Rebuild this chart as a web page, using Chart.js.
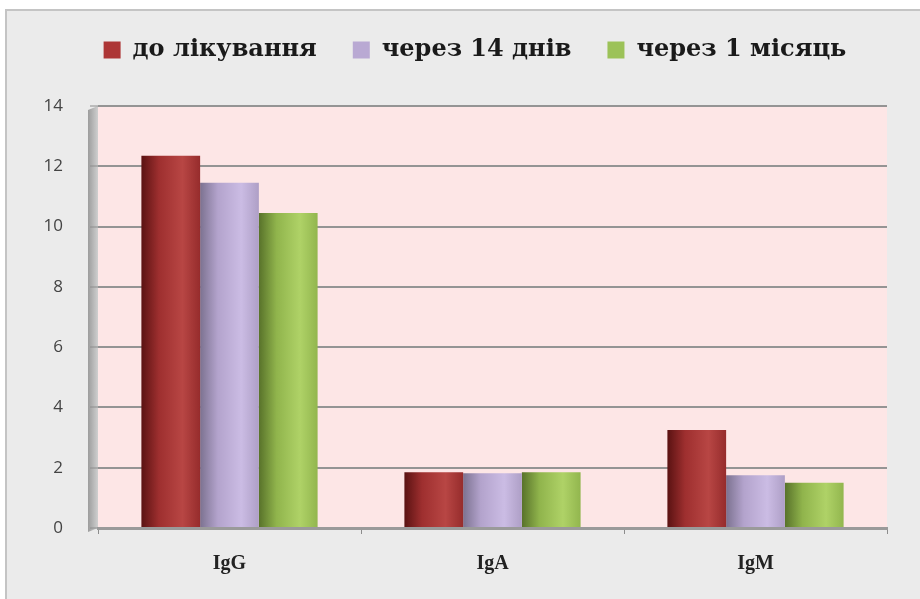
<!DOCTYPE html>
<html>
<head>
<meta charset="utf-8">
<script src="https://cdn.jsdelivr.net/npm/chart.js@4"></script>
<style>
  html, body { margin: 0; background: #fff; }
  #card {
    position: absolute; left: 5px; top: 9px; width: 915px; height: 590px;
    background: #ebebeb; border-left: 2px solid #c4c4c4; border-top: 2px solid #c4c4c4;
  }
  canvas { display: block; }
</style>
</head>
<body>
<div id="card"><canvas id="chart" width="913" height="588"></canvas></div>
<script>
const categories = ["IgG", "IgA", "IgM"];
const seriesNames = ["до лікування", "через 14 днів", "через 1 місяць"];
const beforeTreatment = [12.35, 1.85, 3.25];
const after14Days = [11.45, 1.82, 1.75];
const after1Month = [10.45, 1.85, 1.5];
const yMax = 14;
const yStep = 2;

// dark edge, mid, highlight, right rim, legend swatch
const palettes = [
  ["#5a1212", "#9e2f2f", "#b84644", "#962c2c", "#ad3636"],
  ["#7c7290", "#b3a3cc", "#cbbce4", "#ae9fc6", "#b9a9d3"],
  ["#58722a", "#90b44c", "#afd267", "#92b64e", "#9cc258"],
];
const categoryPct = 0.67;

function barFill(c) {
  const pal = palettes[c.datasetIndex];
  const x = c.chart.scales.x;
  if (c.type !== "data" || !x) return pal[4];
  const groupW = (x.width / categories.length) * categoryPct;
  const barW = groupW / 3;
  const left = x.getPixelForValue(c.dataIndex) - groupW / 2 + c.datasetIndex * barW;
  if (!isFinite(left) || !isFinite(barW) || barW <= 0) return pal[4];
  const g = c.chart.ctx.createLinearGradient(left, 0, left + barW, 0);
  g.addColorStop(0, pal[0]);
  g.addColorStop(0.3, pal[1]);
  g.addColorStop(0.7, pal[2]);
  g.addColorStop(1, pal[3]);
  return g;
}

const plotBackground = {
  id: "plotBackground",
  afterInit(chart) {
    const fit = chart.legend.fit;
    chart.legend.fit = function () {
      fit.call(this);
      this.height += 15;
    };
  },
  afterLayout(chart) {
    // legend sits higher and a little right of centre in the original
    const lg = chart.legend;
    lg.left += 28;
    lg.right += 28;
    lg.top -= 19;
    lg.bottom -= 19;
  },
  beforeDraw(chart) {
    const { ctx, chartArea: a } = chart;
    ctx.save();
    ctx.fillStyle = "#fde6e6";
    ctx.fillRect(a.left, a.top, a.right - a.left, a.bottom - a.top);
    const g = ctx.createLinearGradient(a.left - 10, 0, a.left, 0);
    g.addColorStop(0, "#9c9c9c");
    g.addColorStop(1, "#cfcfcf");
    ctx.fillStyle = g;
    ctx.beginPath();
    ctx.moveTo(a.left - 10, a.top + 4);
    ctx.lineTo(a.left, a.top);
    ctx.lineTo(a.left, a.bottom);
    ctx.lineTo(a.left - 10, a.bottom + 4);
    ctx.closePath();
    ctx.fill();
    ctx.restore();
  }
};

const datasets = [beforeTreatment, after14Days, after1Month].map((values, i) => ({
  label: seriesNames[i],
  data: values,
  backgroundColor: barFill,
  borderWidth: 0,
  categoryPercentage: categoryPct,
  barPercentage: 1.0,
}));

const chart = new Chart(document.getElementById("chart"), {
  type: "bar",
  data: { labels: categories, datasets: datasets },
  options: {
    responsive: false,
    animation: false,
    layout: { padding: { top: 10, right: 33, left: 0, bottom: 0 } },
    plugins: {
      tooltip: { enabled: false },
      legend: {
        position: "top",
        labels: {
          boxWidth: 17,
          boxHeight: 17,
          padding: 36,
          color: "#1a1a1a",
          font: { family: "'DejaVu Serif', serif", size: 24, weight: "bold" },
          generateLabels(chart) {
            const items = Chart.defaults.plugins.legend.labels.generateLabels(chart);
            items.forEach((it, i) => {
              it.fillStyle = palettes[i][4];
              it.strokeStyle = palettes[i][4];
              it.lineWidth = 0;
            });
            return items;
          },
        },
      },
    },
    scales: {
      x: {
        afterFit: (s) => { s.height = 71; },
        grid: { offset: true, drawOnChartArea: false, drawTicks: true, tickLength: 6, color: "#8c8c8c", lineWidth: 1 },
        border: { display: true, color: "#9a9a9a", width: 3 },
        ticks: {
          padding: 18,
          color: "#222",
          font: { family: "'Liberation Serif', 'Times New Roman', serif", size: 20, weight: "bold" },
        },
      },
      y: {
        min: 0,
        max: yMax,
        afterFit: (s) => { s.width = 91; },
        grid: { color: "#949494", lineWidth: 2, tickLength: 8, tickColor: "#8c8c8c", tickWidth: 1 },
        border: { display: false },
        ticks: {
          stepSize: yStep,
          padding: 27,
          color: "#444",
          font: { family: "'Open Sans', 'Liberation Sans', sans-serif", size: 17 },
        },
      },
    },
  },
  plugins: [plotBackground],
});
chart.update();
</script>
</body>
</html>
